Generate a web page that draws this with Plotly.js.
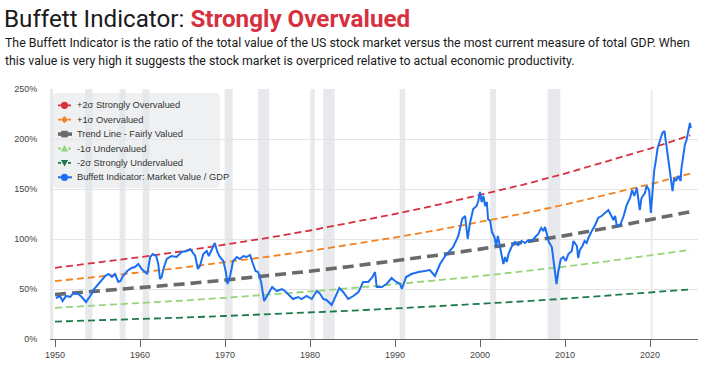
<!DOCTYPE html>
<html>
<head>
<meta charset="utf-8">
<script src="https://cdn.plot.ly/plotly-3.0.1.min.js"></script>
<style>
html,body{margin:0;padding:0;background:#fff;}
#chart{width:706px;height:371px;}
</style>
</head>
<body>
<div id="chart"></div>
<script>
// ---- Data ----
const indicatorYears = [1950.1,1950.6,1950.9,1951.3,1951.8,1952.15,1952.75,1953.15,1953.65,1953.9,1954.3,1954.5,1955.1,1955.5,1955.9,1956.3,1956.7,1957.05,1957.45,1957.7,1958.0,1958.5,1959.0,1959.4,1959.8,1960.2,1960.6,1960.85,1961.2,1961.5,1961.9,1962.15,1962.35,1962.55,1962.75,1963.15,1963.7,1964.3,1964.9,1965.5,1965.9,1966.5,1966.8,1967.05,1967.45,1967.85,1968.1,1968.45,1968.8,1969.1,1969.4,1969.8,1970.1,1970.3,1970.6,1970.95,1971.4,1971.75,1972.15,1972.55,1972.95,1973.3,1973.6,1973.9,1974.25,1974.6,1974.9,1975.3,1975.55,1976.1,1976.7,1977.05,1977.65,1978.0,1978.6,1979.0,1979.6,1980.2,1980.8,1981.2,1981.55,1981.95,1982.55,1982.95,1983.45,1983.9,1984.5,1985.1,1985.7,1986.25,1986.85,1987.35,1987.65,1987.85,1988.45,1989.0,1989.6,1990.0,1990.6,1990.8,1991.3,1991.95,1992.75,1993.5,1994.1,1994.7,1995.3,1995.9,1996.45,1996.85,1997.45,1997.9,1998.25,1998.55,1998.8,1999.2,1999.6,1999.8,2000.0,2000.2,2000.4,2000.6,2000.8,2000.95,2001.2,2001.4,2001.7,2001.9,2002.1,2002.35,2002.55,2002.75,2002.95,2003.15,2003.35,2003.7,2004.1,2004.5,2004.9,2005.3,2005.7,2006.1,2006.5,2006.85,2007.2,2007.45,2007.65,2007.85,2008.1,2008.45,2008.6,2008.8,2009.0,2009.2,2009.5,2009.8,2010.1,2010.4,2010.8,2011.0,2011.4,2011.55,2011.75,2012.05,2012.3,2012.55,2012.75,2013.15,2013.55,2013.9,2014.3,2014.7,2015.1,2015.4,2015.7,2015.9,2016.1,2016.5,2016.9,2017.25,2017.65,2017.9,2018.15,2018.45,2018.6,2018.8,2019.0,2019.4,2019.6,2019.9,2020.1,2020.3,2020.5,2020.7,2020.9,2021.2,2021.45,2021.7,2021.85,2022.1,2022.3,2022.5,2022.65,2022.85,2023.05,2023.35,2023.6,2023.7,2023.9,2024.1,2024.3,2024.5,2024.7,2024.8];
const indicatorValues = [41,43,38,43,42,46,45,42,37,40,45,49,55,58,63,65,62,65,57,58,63,68,71,72,75,70,67,65,82,85,83,75,60,62,70,80,83,82,87,88,90,83,70,73,85,88,83,90,96,87,82,78,67,55,63,78,82,80,83,82,84,75,68,67,57,38,42,48,52,48,50,48,43,40,42,40,43,40,48,45,40,39,34,42,51,47,40,43,47,57,57,62,67,52,52,55,61,58,55,50,62,65,67,68,69,63,75,83,88,92,103,120,123,100,115,130,133,138,147,137,143,133,137,120,118,107,102,93,103,93,83,75,82,77,85,92,97,94,98,96,99,98,102,105,111,108,112,105,97,92,80,70,55,67,80,82,78,85,88,98,93,81,89,93,98,96,101,108,114,121,123,126,129,124,119,123,113,114,123,134,141,149,143,151,143,129,141,146,153,149,126,153,169,179,191,199,206,208,198,186,169,159,148,161,158,163,158,171,183,194,199,208,216,211];

const bandYears   = [1950,1955,1960,1965,1970,1975,1980,1985,1990,1995,2000,2005,2010,2015,2020,2024.75];
const trendValues = [44.5,47.7,51.2,54.9,58.9,63.2,67.8,72.8,78.1,83.8,89.9,96.4,103.4,111.0,119.0,127.3];
const plus2Values = [71.2,76.3,81.9,87.8,94.2,101.1,108.5,116.5,125.0,134.1,143.8,154.2,165.4,177.6,190.4,203.7];
const plus1Values = [57.9,62.0,66.6,71.4,76.6,82.2,88.1,94.6,101.5,108.9,116.9,125.3,134.4,144.3,154.7,165.5];
const minus1Values = [31.2,33.4,35.8,38.4,41.2,44.2,47.5,51.0,54.7,58.7,62.9,67.5,72.4,77.7,83.3,89.1];
const minus2Values = [17.4,18.6,20.0,21.4,23.0,24.6,26.4,28.4,30.5,32.7,35.1,37.6,40.3,43.3,46.4,49.6];

const recessionStart = [1948.9,1953.55,1957.6,1960.3,1969.95,1973.9,1980.05,1981.55,1990.55,2001.2,2007.95,2020.1];
const recessionEnd   = [1949.8,1954.4,1958.3,1961.1,1970.9,1975.2,1980.55,1982.9,1991.2,2001.9,2009.45,2020.3];

const xTickVals = [1950,1960,1970,1980,1990,2000,2010,2020];
const yTickVals = [0,50,100,150,200,250];

const seriesNames = ['+2σ Strongly Overvalued','+1σ Overvalued','Trend Line - Fairly Valued','-1σ Undervalued','-2σ Strongly Undervalued','Buffett Indicator: Market Value / GDP'];

// ---- Styles ----
const RED='#d7303f', ORANGE='#f28323', GRAY='#6a6a6a', LGREEN='#96d47a', DGREEN='#1e7a4c', BLUE='#1b6ff0';
const W=706,H=371,L=50,R=8,T=89,B=32;
const PW=W-L-R, PH=H-T-B;
const px = x => (x-L)/PW;
const py = y => (H-B-y)/PH;

const bandLine = (c,w,d) => ({color:c,width:w,dash:d});
const traces = [
  {x:bandYears,y:plus2Values,mode:'lines',line:bandLine(RED,1.8,'7px,4px'),name:seriesNames[0],showlegend:false,hoverinfo:'skip'},
  {x:bandYears,y:plus1Values,mode:'lines',line:bandLine(ORANGE,1.8,'7px,4px'),name:seriesNames[1],showlegend:false,hoverinfo:'skip'},
  {x:bandYears,y:trendValues,mode:'lines',line:bandLine(GRAY,3.6,'11px,6px'),name:seriesNames[2],showlegend:false,hoverinfo:'skip'},
  {x:bandYears,y:minus1Values,mode:'lines',line:bandLine(LGREEN,1.8,'7px,4px'),name:seriesNames[3],showlegend:false,hoverinfo:'skip'},
  {x:bandYears,y:minus2Values,mode:'lines',line:bandLine(DGREEN,1.8,'7px,4px'),name:seriesNames[4],showlegend:false,hoverinfo:'skip'},
  {x:indicatorYears,y:indicatorValues,mode:'lines',line:{color:BLUE,width:2},name:seriesNames[5],showlegend:false}
];

const shapes = [];
for (let i=0;i<recessionStart.length;i++){
  shapes.push({type:'rect',xref:'x',yref:'paper',x0:recessionStart[i],x1:recessionEnd[i],y0:0,y1:1,
    fillcolor:'#e7e9ec',line:{width:0},layer:'below'});
}
// custom legend box (rounded)
(function(){
  const x0=53,x1=220,y0=93,y1=188,r=5;
  const X=px, Y=py;
  const p = `M ${X(x0+r)},${Y(y0)} L ${X(x1-r)},${Y(y0)} Q ${X(x1)},${Y(y0)} ${X(x1)},${Y(y0+r)} L ${X(x1)},${Y(y1-r)} Q ${X(x1)},${Y(y1)} ${X(x1-r)},${Y(y1)} L ${X(x0+r)},${Y(y1)} Q ${X(x0)},${Y(y1)} ${X(x0)},${Y(y1-r)} L ${X(x0)},${Y(y0+r)} Q ${X(x0)},${Y(y0)} ${X(x0+r)},${Y(y0)} Z`;
  shapes.push({type:'path',xref:'paper',yref:'paper',path:p,fillcolor:'rgba(228,230,234,0.62)',line:{width:0},layer:'above'});
})();
const legColors=[RED,ORANGE,GRAY,LGREEN,DGREEN,BLUE];
const legSymbols=['circle','diamond','square','triangle-up','triangle-down','circle'];
const legDash=['3px,2px','3px,2px','solid','3px,2px','3px,2px','solid'];
const legWidth=[1.8,1.8,3.5,1.8,1.8,2];
const annotations=[];
for (let i=0;i<6;i++){
  const yc=105.3+i*14.4, xc=64.5, c=legColors[i];
  shapes.push({type:'line',xref:'paper',yref:'paper',x0:px(58),x1:px(72),y0:py(yc),y1:py(yc),line:{color:c,width:legWidth[i],dash:legDash[i]},layer:'above'});
  let p;
  const s=legSymbols[i], r=3.6;
  if(s==='circle'){
    shapes.push({type:'circle',xref:'paper',yref:'paper',x0:px(xc-r),x1:px(xc+r),y0:py(yc+r),y1:py(yc-r),fillcolor:c,line:{width:0},layer:'above'});
  } else {
    if(s==='diamond') p=`M ${px(xc)},${py(yc-r)} L ${px(xc+r)},${py(yc)} L ${px(xc)},${py(yc+r)} L ${px(xc-r)},${py(yc)} Z`;
    if(s==='square') p=`M ${px(xc-3.3)},${py(yc-3.3)} L ${px(xc+3.3)},${py(yc-3.3)} L ${px(xc+3.3)},${py(yc+3.3)} L ${px(xc-3.3)},${py(yc+3.3)} Z`;
    if(s==='triangle-up') p=`M ${px(xc)},${py(yc-r)} L ${px(xc+r)},${py(yc+r*0.8)} L ${px(xc-r)},${py(yc+r*0.8)} Z`;
    if(s==='triangle-down') p=`M ${px(xc)},${py(yc+r)} L ${px(xc+r)},${py(yc-r*0.8)} L ${px(xc-r)},${py(yc-r*0.8)} Z`;
    shapes.push({type:'path',xref:'paper',yref:'paper',path:p,fillcolor:c,line:{width:0},layer:'above'});
  }
  annotations.push({xref:'paper',yref:'paper',x:px(76),y:py(yc),xanchor:'left',yanchor:'middle',showarrow:false,
    text:seriesNames[i],font:{family:'Liberation Sans, Arial, sans-serif',size:9.3,color:'#333'},borderpad:0});
}
// subtitle
annotations.push({xref:'paper',yref:'paper',x:px(4),y:py(51),xanchor:'left',yanchor:'bottom',showarrow:false,borderpad:0,
  text:'The Buffett Indicator is the ratio of the total value of the US stock market versus the most current measure of total GDP. When',
  font:{family:'Roboto, sans-serif',size:12.35,color:'#1a1a1a'}});
annotations.push({xref:'paper',yref:'paper',x:px(4),y:py(69),xanchor:'left',yanchor:'bottom',showarrow:false,borderpad:0,
  text:'this value is very high it suggests the stock market is overpriced relative to actual economic productivity.',
  font:{family:'Roboto, sans-serif',size:12.35,color:'#1a1a1a'}});

const layout = {
  width:W,height:H,
  margin:{l:L,r:R,t:T,b:B,pad:0},
  paper_bgcolor:'#fff',plot_bgcolor:'#fff',
  showlegend:false,
  title:{text:'Buffett Indicator: <b><span style="color:'+RED+'">Strongly Overvalued</span></b>',
    x:4/W,xref:'container',xanchor:'left',y:1-18.5/H,yref:'container',yanchor:'middle',
    font:{family:'Roboto, sans-serif',size:24.2,color:'#1a1a1a'}},
  xaxis:{range:[1950-5/8.5,1950+(W-R-55)/8.5],tickvals:xTickVals,ticktext:xTickVals.map(String),
    showgrid:false,zeroline:false,showline:true,linecolor:'#666',linewidth:1,
    ticks:'outside',ticklen:7,tickcolor:'#666',tickwidth:1,
    tickfont:{family:'Liberation Sans, Arial, sans-serif',size:9,color:'#444'}},
  yaxis:{range:[0,250],tickvals:yTickVals,ticktext:yTickVals.map(v=>v+'%'),
    showgrid:true,gridcolor:'#e4e4e4',gridwidth:1,zeroline:false,showline:false,
    ticks:'outside',ticklen:10,tickcolor:'rgba(0,0,0,0)',
    tickfont:{family:'Liberation Sans, Arial, sans-serif',size:9,color:'#444'}},
  shapes:shapes,
  annotations:annotations
};
Plotly.newPlot('chart',traces,layout,{displayModeBar:false,staticPlot:true});
</script>
</body>
</html>
